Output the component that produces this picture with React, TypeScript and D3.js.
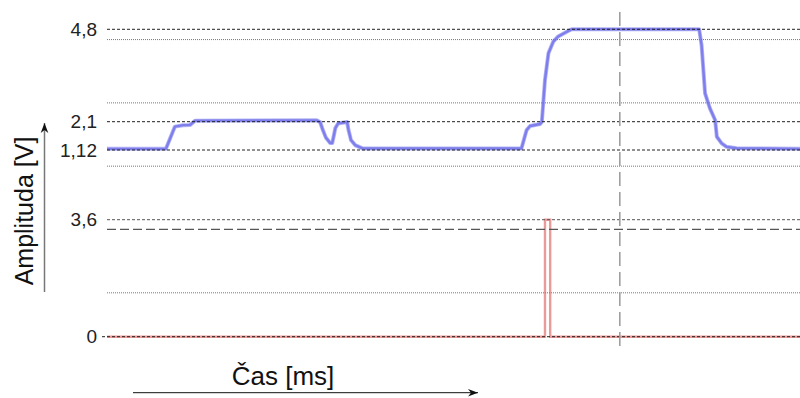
import React from "react";
import * as d3 from "d3";

// ---- data (time in ms, amplitude in V) ----
const blueTime = [0, 17.0, 19.6, 22.0, 24.0, 25.4, 60.5, 61.5, 62.3, 63.2, 64.4, 65.0, 65.5, 65.9, 66.7, 69.3, 69.7, 70.4, 71.6, 73.9,
  119.6, 121.1, 122.1, 125.0, 125.5, 126.4, 127.4, 128.8, 130.2, 132.7, 134.1,
  170.9, 171.6, 172.6, 174.0, 175.5, 176.0, 177.4, 178.8, 181.7, 200];
const blueVolt = [1.16, 1.16, 1.93, 1.98, 1.99, 2.13, 2.14, 2.09, 1.81, 1.54, 1.36, 1.36, 1.64, 1.88, 2.04, 2.09, 1.81, 1.47, 1.29, 1.17,
  1.17, 1.81, 1.95, 2.02, 2.1, 3.32, 4.1, 4.44, 4.59, 4.73, 4.8,
  4.8, 4.33, 2.93, 2.49, 2.15, 1.58, 1.35, 1.23, 1.18, 1.16];

const redTime = [0, 126.4, 126.4, 127.9, 127.9, 200];
const redVolt = [0, 0, 3.6, 3.6, 0, 0];

const upperTicks = [4.8, 2.1, 1.12];
const lowerTicks = [3.6, 0];

// reference levels: [value, style]
const upperLevels: [number, string][] = [[4.8, "dash"], [4.5, "dot"], [2.65, "dot"], [2.1, "dash"], [1.12, "dash"], [0.56, "dot"]];
const lowerLevels: [number, string][] = [[3.6, "dashGrey"], [3.3, "long"], [1.35, "dot"], [0, "dash"]];

const markerTime = 148;

const yTitle = "Amplituda [V]";
const xTitle = "Čas [ms]";

const styles: Record<string, { stroke: string; dash: string; w: number }> = {
  dash: { stroke: "#222", dash: "3,2", w: 1 },
  dashGrey: { stroke: "#555", dash: "3,2", w: 1 },
  dot: { stroke: "#777", dash: "1,1", w: 1 },
  long: { stroke: "#555", dash: "9,4", w: 1.2 },
};

export default function App() {
  const W = 800, H = 398;
  const x = d3.scaleLinear().domain([0, 200]).range([107, 800]);
  const yU = d3.scaleLinear().domain([1.12, 2.1, 4.8]).range([150, 121.7, 29.3]);
  const yL = d3.scaleLinear().domain([0, 3.6]).range([336.7, 219.7]);
  const fmt = d3.formatLocale({ decimal: ",", thousands: ".", grouping: [3], currency: ["", ""] }).format("~g");

  const blueLine = d3.line<number>().x((_, i) => x(blueTime[i])).y((v) => yU(v));
  const redLine = d3.line<number>().x((_, i) => x(redTime[i])).y((v) => yL(v));

  const font = "'Liberation Sans', Arial, sans-serif";

  const levelLine = (v: number, s: string, y: (n: number) => number, key: string, x0 = 107) => {
    const st = styles[s];
    return (
      <line key={key} x1={x0} x2={W} y1={y(v)} y2={y(v)} stroke={st.stroke}
        strokeDasharray={st.dash} strokeWidth={st.w} />
    );
  };

  return (
    <svg width={W} height={H} style={{ position: "absolute", left: 0, top: 0, background: "#fff" }}
      fontFamily={font}>
      <defs>
        <marker id="arr" viewBox="-10 -5 12 10" refX="0" refY="0" markerWidth="12" markerHeight="10"
          markerUnits="userSpaceOnUse" orient="auto">
          <path d="M0,0 L-10,-3.8 L-7,0 L-10,3.8 Z" fill="#111" />
        </marker>
      </defs>

      {/* signals */}
      <path d={blueLine(blueVolt) || ""} fill="none" stroke="#b4b4f4" strokeWidth={4} strokeLinejoin="round" />
      <path d={blueLine(blueVolt) || ""} fill="none" stroke="#7e7eec" strokeWidth={2.4} strokeLinejoin="round" />
      <path d={redLine(redVolt) || ""} fill="none" stroke="#eb9a9a" strokeWidth={2.4} />

      {/* reference levels */}
      {upperLevels.map(([v, s], i) => levelLine(v, s, yU, "u" + i))}
      {lowerLevels.map(([v, s], i) => levelLine(v, s, yL, "l" + i, v === 0 ? 102 : 107))}

      {/* vertical marker */}
      <line x1={x(markerTime)} x2={x(markerTime)} y1={12} y2={350} stroke="#999" strokeWidth={1.5}
        strokeDasharray="14,6" />

      {/* tick labels */}
      {upperTicks.map((v) => (
        <text key={"tu" + v} x={97} y={yU(v)} dy="0.35em" textAnchor="end" fontSize={19} fill="#222">{fmt(v)}</text>
      ))}
      {lowerTicks.map((v) => (
        <text key={"tl" + v} x={97} y={yL(v)} dy="0.35em" textAnchor="end" fontSize={19} fill="#222">{fmt(v)}</text>
      ))}

      {/* y axis title + arrow */}
      <text transform="translate(33,211) rotate(-90)" textAnchor="middle" fontSize={25} fill="#111">{yTitle}</text>
      <line x1={44.5} x2={44.5} y1={292} y2={123} stroke="#777" strokeWidth={1.5} markerEnd="url(#arr)" />

      {/* x axis title + arrow */}
      <text x={283} y={385} textAnchor="middle" fontSize={26} fill="#111">{xTitle}</text>
      <line x1={133} x2={478} y1={392.7} y2={392.7} stroke="#111" strokeWidth={1} markerEnd="url(#arr)" />
    </svg>
  );
}
